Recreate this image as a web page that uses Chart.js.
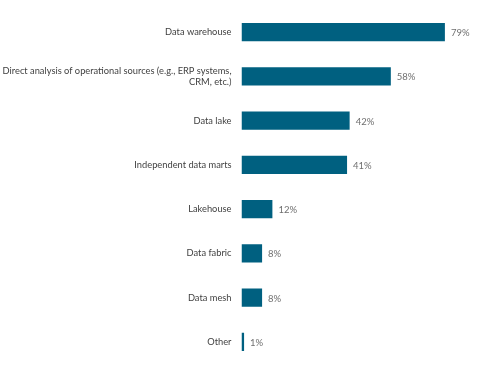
<!DOCTYPE html>
<html>
<head>
<meta charset="utf-8">
<script src="https://cdn.jsdelivr.net/npm/chart.js@4/dist/chart.umd.min.js"></script>
<style>
html,body{margin:0;padding:0;background:#fff;}
#wrap{width:483px;height:374px;position:relative;}
</style>
</head>
<body>
<div id="wrap"><canvas id="c"></canvas></div>
<script>
const categories = [
  "Data warehouse",
  ["Direct analysis of operational sources (e.g., ERP systems,", "CRM, etc.)"],
  "Data lake",
  "Independent data marts",
  "Lakehouse",
  "Data fabric",
  "Data mesh",
  "Other"
];
const values = [79, 58, 42, 41, 12, 8, 8, 1];
const valueSuffix = "%";

const FONT = "Lato, 'Open Sans', sans-serif";

const valueLabels = {
  id: 'valueLabels',
  afterDatasetsDraw(chart) {
    const ctx = chart.ctx;
    const meta = chart.getDatasetMeta(0);
    ctx.save();
    ctx.font = "9.5px " + FONT;
    ctx.fillStyle = "#6f6f6f";
    ctx.textAlign = "left";
    ctx.textBaseline = "middle";
    meta.data.forEach((bar, i) => {
      ctx.fillText(values[i] + valueSuffix, bar.x + 6, bar.y + 1);
    });
    ctx.restore();
  }
};

new Chart(document.getElementById('c'), {
  type: 'bar',
  data: {
    labels: categories,
    datasets: [{
      data: values,
      backgroundColor: '#006080',
      borderWidth: 0,
      barPercentage: 0.41,
      categoryPercentage: 1.0
    }]
  },
  options: {
    indexAxis: 'y',
    responsive: true,
    maintainAspectRatio: false,
    animation: false,
    layout: { padding: { top: 10, bottom: 10, left: 0, right: 0 } },
    plugins: { legend: { display: false }, tooltip: { enabled: false } },
    scales: {
      x: { display: false, min: 0, max: 93.8 },
      y: {
        grid: { display: false, drawTicks: false },
        border: { display: false },
        ticks: { color: '#3f3f3f', font: { family: FONT, size: 9.3, lineHeight: 1.25 }, padding: 10 },
        afterFit(scale) {
          scale.width = 241.5;
          scale.paddingTop = 0;
          scale.paddingBottom = 0;
        }
      }
    }
  },
  plugins: [valueLabels]
});
</script>
</body>
</html>
